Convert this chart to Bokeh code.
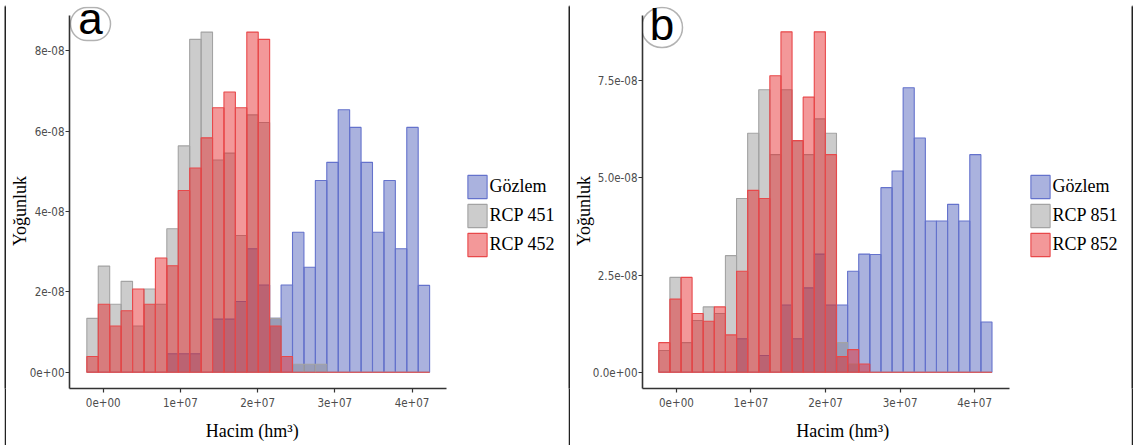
import numpy as np
from bokeh.plotting import figure
from bokeh.models import Legend, LegendItem, BoxAnnotation, Label, FixedTicker
from bokeh.layouts import row, column
from bokeh.embed import file_html
from bokeh.resources import INLINE

# ---------------- data (densities in units of 1e-8) ----------------
series_a = ["Gözlem", "RCP 451", "RCP 452"]
series_b = ["Gözlem", "RCP 851", "RCP 852"]

a_bin_start = -2.12e6
a_bin_width = 1.48e6
a_gozlem = [0, 0, 0, 0, 0, 0, 0, 0.46, 0.46, 0.46, 0, 1.32, 1.32, 1.76, 3.07,
            2.17, 1.34, 2.17, 3.48, 2.61, 4.77, 5.22, 6.53, 6.09, 5.22, 3.48, 4.77, 3.07, 6.09, 2.16]
a_rcp451 = [1.34, 2.64, 1.69, 2.26, 1.15, 2.07, 1.69, 3.57, 5.63, 8.28, 8.46, 5.28, 5.45, 3.40, 6.40,
            6.21, 1.34, 0, 0.2, 0.2, 0.2, 0, 0, 0, 0, 0, 0, 0, 0, 0]
a_rcp452 = [0.39, 1.69, 1.15, 1.53, 2.07, 1.69, 2.84, 2.65, 4.52, 5.08, 5.83, 6.58, 6.97, 6.58, 8.46,
            8.28, 1.15, 0.39, 0, 0, 0, 0, 0, 0, 0, 0, 0, 0, 0, 0]

b_bin_start = -2.37e6
b_bin_width = 1.49e6
b_gozlem = [0, 0, 0, 0, 0, 0, 0, 0.86, 0, 0.43, 0, 1.73, 0.86, 2.17, 3.04,
            1.73, 1.73, 2.60, 3.04, 3.03, 4.75, 5.18, 7.32, 6.03, 3.89, 3.89, 4.32, 3.89, 5.60, 1.29]
b_rcp851 = [0.56, 2.44, 0.76, 1.33, 1.68, 1.51, 3.00, 4.47, 6.15, 7.27, 5.60, 7.27, 5.96, 5.60, 6.52,
            6.15, 0.76, 0.21, 0, 0, 0, 0, 0, 0, 0, 0, 0, 0, 0, 0]
b_rcp852 = [0.76, 1.88, 2.44, 1.51, 1.31, 1.68, 0.96, 2.60, 4.68, 4.47, 7.63, 8.76, 5.96, 7.08, 8.76,
            5.60, 0.40, 0.58, 0.21, 0, 0, 0, 0, 0, 0, 0, 0, 0, 0, 0]
density_unit = 1e-8

x_ticks = [0, 1e7, 2e7, 3e7, 4e7]
x_tick_labels = ["0e+00", "1e+07", "2e+07", "3e+07", "4e+07"]
a_y_ticks = [0, 2e-8, 4e-8, 6e-8, 8e-8]
a_y_tick_labels = ["0e+00", "2e-08", "4e-08", "6e-08", "8e-08"]
b_y_ticks = [0, 2.5e-8, 5e-8, 7.5e-8]
b_y_tick_labels = ["0.0e+00", "2.5e-08", "5.0e-08", "7.5e-08"]

x_title = "Hacim (hm³)"
y_title = "Yoğunluk"
panel_tags = ["a", "b"]

# ---------------- styling ----------------
FILLS = [("#2a3eac", 0.4, "#6472cc"), ("#808080", 0.4, "#a3a3a3"), ("#e41a1c", 0.45, "#e8484a")]
TICK_FONT = "DejaVu Sans Condensed, sans-serif"
SERIF = "Liberation Serif"
SANS = "Liberation Sans"
H = 440  # height of the panel row
NBSP = "\u00a0"  # invisible padding used to shift centred axis titles


def solid(w, h, color):
    f = figure(width=w, height=h, min_border=0, x_axis_type=None, y_axis_type=None,
               toolbar_location=None, output_backend="svg",
               background_fill_color=color, border_fill_color=color, outline_line_color=None)
    f.xgrid.visible = False
    f.ygrid.visible = False
    return f


def make_panel(width, bl, xr, x_bounds, yr, y_bounds, start, bw, series, names, yt, ytl,
               legend_xy, ylab_standoff, x_pad, y_pad, tag, tag_xy, tag_box):
    p = figure(width=width, height=H, x_range=xr, y_range=yr,
               output_backend="svg", toolbar_location=None,
               min_border_left=bl, min_border_right=3, min_border_top=1, min_border_bottom=57)
    p.xgrid.visible = False
    p.ygrid.visible = False
    p.outline_line_color = None

    n = len(series[0])
    edges = start + bw * np.arange(n + 1)
    rends = []
    for vals, (fc, fa, lc) in zip(series, FILLS):
        top = np.array(vals) * density_unit
        r = p.quad(left=edges[:-1], right=edges[1:], bottom=0, top=top,
                   fill_color=fc, fill_alpha=fa, line_color=lc, line_width=1.1)
        rends.append(r)

    for ax in (p.xaxis[0], p.yaxis[0]):
        ax.axis_line_color = "#333333"
        ax.axis_line_width = 1.6
        ax.major_tick_line_color = "#333333"
        ax.major_tick_line_width = 1.2
        ax.major_tick_out = 4
        ax.major_tick_in = 0
        ax.minor_tick_line_color = None
        ax.major_label_text_font = TICK_FONT
        ax.major_label_text_font_size = "11.5px"
        ax.major_label_text_color = "#4d4d4d"
        ax.axis_label_text_font = SERIF
        ax.axis_label_text_font_size = "18px"
        ax.axis_label_text_font_style = "normal"
        ax.axis_label_text_color = "black"
    p.xaxis.bounds = x_bounds
    p.xaxis.ticker = FixedTicker(ticks=x_ticks)
    p.xaxis.major_label_overrides = dict(zip(x_ticks, x_tick_labels))
    p.xaxis.major_label_standoff = 5
    p.xaxis.axis_label = x_title + NBSP * x_pad
    p.xaxis.axis_label_standoff = 11
    p.yaxis.bounds = y_bounds
    p.yaxis.ticker = FixedTicker(ticks=yt)
    p.yaxis.major_label_overrides = dict(zip(yt, ytl))
    p.yaxis.major_label_standoff = 1
    p.yaxis.axis_label = y_title + NBSP * y_pad
    p.yaxis.axis_label_standoff = ylab_standoff

    legend = Legend(items=[LegendItem(label=nm, renderers=[r]) for nm, r in zip(names, rends)],
                    location=legend_xy, orientation="vertical",
                    glyph_width=24, glyph_height=29, label_height=29, spacing=0,
                    padding=0, margin=0, label_standoff=1,
                    border_line_color=None, background_fill_alpha=0,
                    label_text_font=SERIF, label_text_font_size="18px", label_text_color="black")
    p.add_layout(legend)

    # circled panel tag
    l, r, t, b = tag_box
    p.add_layout(BoxAnnotation(left=l, right=r, top=t, bottom=b,
                               left_units="canvas", right_units="canvas",
                               top_units="canvas", bottom_units="canvas",
                               fill_alpha=0, line_color="black", line_width=1.5, border_radius=20))
    p.add_layout(Label(x=tag_xy[0], y=tag_xy[1], x_units="canvas", y_units="canvas", text=tag,
                       text_font=SANS, text_font_size="44px", text_color="black",
                       text_align="center", text_baseline="alphabetic"))
    return p


pa = make_panel(562, 63, (-4.365e6, 5.988e7), (-4.365e6, 4.446e7),
                (-0.405e-8, 9.097e-8), (-0.405e-8, 8.874e-8),
                a_bin_start, a_bin_width, [a_gozlem, a_rcp451, a_rcp452], series_a,
                a_y_ticks, a_y_tick_labels, (395.6, 129), -3, 29, 6,
                panel_tags[0], (84, 12.5), (64, 104, 2, 35))

pb = make_panel(561, 71, (-4.552e6, 6.064e7), (-4.552e6, 4.462e7),
                (-0.42e-8, 9.413e-8), (-0.42e-8, 9.18e-8),
                b_bin_start, b_bin_width, [b_gozlem, b_rcp851, b_rcp852], series_b,
                b_y_ticks, b_y_tick_labels, (385.6, 129), -4, 19, 6,
                panel_tags[1], (91.5, 19), (71, 112, 2, 42))

panels = row(solid(4, H, "white"), solid(2, H, "#222222"), pa, solid(2, H, "#222222"),
             pb, solid(2, H, "#222222"))
layout = column(solid(1133, 3, "white"), solid(1133, 2, "#595959"), panels)
open("out.html", "w").write(file_html(layout, INLINE))
